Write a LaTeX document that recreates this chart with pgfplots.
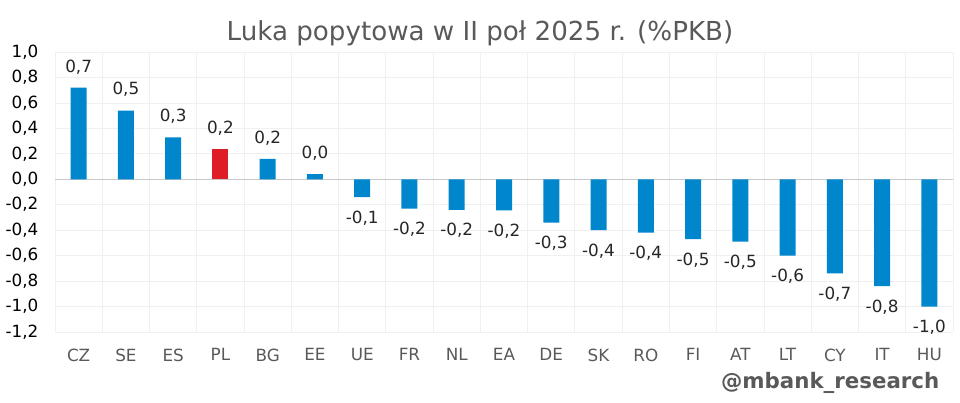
\documentclass[border=0pt]{standalone}
\usepackage{fontspec}
\setmainfont{DejaVu Sans}
\usepackage{pgfplots}
\pgfplotsset{compat=1.18}
\definecolor{barblue}{RGB}{0,134,204}
\definecolor{barred}{RGB}{222,30,36}
\definecolor{txtgray}{RGB}{89,89,89}
\definecolor{gridgray}{RGB}{240,240,240}
\definecolor{zerogray}{RGB}{200,200,200}
\definecolor{lblcol}{RGB}{38,38,38}
\begin{document}
\begin{tikzpicture}
\useasboundingbox (0,0) rectangle (720pt,302.25pt);
\node[txtgray,font=\fontsize{19.6}{22}\selectfont] at (360pt,277pt) {Luka popytowa w II poł 2025 r. (\%PKB)};
\node[txtgray,font=\fontsize{16}{18}\selectfont\bfseries,anchor=east] at (708pt,15pt) {@mbank\_research};
\begin{axis}[
  at={(41.25pt,53.25pt)},anchor=south west,
  scale only axis,width=673.5pt,height=210pt,
  ybar,bar width=12pt,
  xmin=-0.5,xmax=18.5,ymin=-1.2,ymax=1.0,
  xtick={0,1,...,18},
  xticklabels={CZ,SE,ES,PL,BG,EE,UE,FR,NL,EA,DE,SK,RO,FI,AT,LT,CY,IT,HU},
  minor xtick={-0.5,0.5,...,18.5},
  ytick={-1.2,-1.0,-0.8,-0.6,-0.4,-0.2,0,0.2,0.4,0.6,0.8,1.0},
  xminorgrids,ymajorgrids,
  minor grid style={draw=gridgray,line width=0.6pt},
  major grid style={draw=gridgray,line width=0.6pt},
  extra y ticks={0},extra y tick labels={},
  extra y tick style={grid=major,major grid style={draw=zerogray,line width=0.9pt}},
  axis line style={draw=none},
  major tick length=0pt,minor tick length=0pt,
  yticklabel style={font=\fontsize{12.6}{14}\selectfont,text=black,xshift=-9pt,
    /pgf/number format/.cd,fixed,fixed zerofill,precision=1,use comma,assume math mode=true},
  xticklabel style={font=\fontsize{12.6}{14}\selectfont,text=txtgray,yshift=-9pt},
  nodes near coords,
  nodes near coords align={vertical},
  every node near coord/.append style={font=\fontsize{12.6}{14}\selectfont,text=lblcol,inner ysep=10pt,
    /pgf/number format/.cd,fixed,fixed zerofill,precision=1,use comma,assume math mode=true},
]
\addplot[fill=barblue,draw=none,bar shift=0pt] coordinates {
(0,0.72) (1,0.54) (2,0.33) (4,0.16) (5,0.04) (6,-0.14) (7,-0.23) (8,-0.24)
(9,-0.245) (10,-0.34) (11,-0.40) (12,-0.42) (13,-0.47) (14,-0.49) (15,-0.60)
(16,-0.74) (17,-0.84) (18,-1.00)
};
\addplot[fill=barred,draw=none,bar shift=0pt] coordinates {(3,0.24)};
\end{axis}
\end{tikzpicture}
\end{document}
